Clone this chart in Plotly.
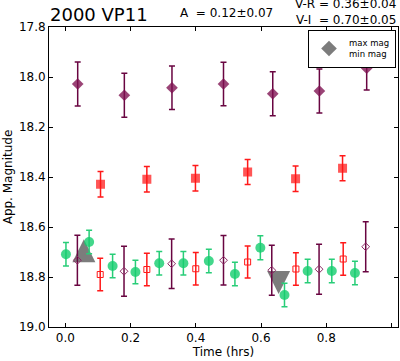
import plotly.graph_objects as go

# ---- data ----
v_t = [0.038, 0.181, 0.327, 0.485, 0.636, 0.779, 0.924]
v_mag = [18.028, 18.073, 18.043, 18.028, 18.067, 18.056, 17.965]
v_err = [0.088, 0.088, 0.087, 0.087, 0.088, 0.088, 0.087]

r_t = [0.108, 0.250, 0.399, 0.559, 0.706, 0.850]
r_mag = [18.429, 18.409, 18.405, 18.380, 18.407, 18.365]
r_err = [0.051, 0.051, 0.051, 0.050, 0.051, 0.050]

i_t = [0.002, 0.073, 0.145, 0.215, 0.288, 0.362, 0.440, 0.520, 0.598, 0.672, 0.743, 0.817, 0.888]
i_mag = [18.709, 18.660, 18.756, 18.780, 18.745, 18.745, 18.736, 18.788, 18.683, 18.872, 18.776, 18.776, 18.784]
i_err = [0.047, 0.047, 0.047, 0.047, 0.047, 0.047, 0.047, 0.047, 0.048, 0.047, 0.047, 0.047, 0.047]

rs_t = [0.107, 0.250, 0.400, 0.559, 0.707, 0.852]
rs_mag = [18.790, 18.770, 18.767, 18.740, 18.768, 18.728]
rs_err = [0.065, 0.065, 0.065, 0.064, 0.065, 0.065]

vs_t = [0.037, 0.180, 0.326, 0.485, 0.633, 0.778, 0.921]
vs_mag = [18.733, 18.777, 18.747, 18.733, 18.773, 18.769, 18.679]
vs_err = [0.100, 0.100, 0.099, 0.099, 0.100, 0.100, 0.100]

max_t = [0.057]
max_mag = [18.695]
min_t = [0.654]
min_mag = [18.822]

legend_labels = ["max mag", "min mag"]
title_text = "2000 VP11"
amp_text = "A  = 0.12\u00b10.07"
vr_text = "V-R = 0.36\u00b10.04"
vi_text = "V-I  = 0.70\u00b10.05"

y_ticks = [17.8, 18.0, 18.2, 18.4, 18.6, 18.8, 19.0]
x_ticks = [0.0, 0.2, 0.4, 0.6, 0.8, 1.0]

FONT = "DejaVu Sans"
PURPLE_M = "rgba(125,15,80,0.78)"
PURPLE_E = "rgb(105,5,65)"
RED_M = "rgba(255,20,20,0.72)"
RED_E = "rgb(255,25,25)"
GREEN_M = "rgba(20,205,110,0.8)"
GREEN_E = "rgb(40,205,120)"
GRAY = "rgba(110,110,110,0.9)"

fig = go.Figure()

def eb(arr, color, w):
    return dict(type="data", array=arr, color=color, thickness=1.5, width=w, visible=True)

# max / min markers (centred triangles built from arrow symbols), drawn underneath
fig.add_trace(go.Scatter(x=max_t, y=max_mag, mode="markers", name=legend_labels[0], showlegend=False,
                         marker=dict(symbol="arrow-down", angle=180, standoff=11.5, size=23,
                                     color=GRAY, line=dict(width=0))))
fig.add_trace(go.Scatter(x=min_t, y=min_mag, mode="markers", name=legend_labels[1], showlegend=False,
                         marker=dict(symbol="arrow-down", standoff=11.5, size=23,
                                     color=GRAY, line=dict(width=0))))
# bottom group
fig.add_trace(go.Scatter(x=i_t, y=i_mag, mode="markers", showlegend=False,
                         marker=dict(symbol="circle", size=10, color=GREEN_M, line=dict(width=0)),
                         error_y=eb(i_err, GREEN_E, 3)))
fig.add_trace(go.Scatter(x=rs_t, y=rs_mag, mode="markers", showlegend=False,
                         marker=dict(symbol="square-open", size=6, color=RED_E, line=dict(width=1)),
                         error_y=eb(rs_err, RED_E, 3)))
fig.add_trace(go.Scatter(x=vs_t, y=vs_mag, mode="markers", showlegend=False,
                         marker=dict(symbol="diamond-open", size=6, color="rgb(140,40,100)", line=dict(width=1)),
                         error_y=eb(vs_err, PURPLE_E, 3)))
# top groups
fig.add_trace(go.Scatter(x=v_t, y=v_mag, mode="markers", showlegend=False,
                         marker=dict(symbol="diamond", size=9, color=PURPLE_M, line=dict(width=0)),
                         error_y=eb(v_err, PURPLE_E, 3)))
fig.add_trace(go.Scatter(x=r_t, y=r_mag, mode="markers", showlegend=False,
                         marker=dict(symbol="square", size=9, color=RED_M, line=dict(width=0)),
                         error_y=eb(r_err, RED_E, 3)))
# combined legend entry (max/min triangles stacked)
fig.add_trace(go.Scatter(x=[None], y=[None], mode="markers", name="<br>".join(legend_labels),
                         marker=dict(symbol="diamond", size=12, color=GRAY, line=dict(width=0))))

W, H = 400, 361
L, R, T, B = 49, 2, 27, 34
pw, ph = W - L - R, H - T - B
def px(x):
    return (x - L) / pw
def py(y):
    return (H - B - y) / ph

def ann(text, x, y, size, xanchor="left"):
    fig.add_annotation(text=text, x=x, y=y, xref="paper", yref="paper", showarrow=False,
                       xanchor=xanchor, yanchor="middle", font=dict(family=FONT, size=size, color="black"))

ann(title_text, px(48), py(15), 18)
ann(amp_text, px(178), py(13), 12)
ann(vr_text, px(398), py(4), 12, "right")
ann(vi_text, px(398), py(20), 12, "right")

axis_common = dict(showline=True, linecolor="black", linewidth=1, mirror="allticks",
                   ticks="inside", ticklen=4, tickwidth=1, tickcolor="black",
                   showgrid=False, zeroline=False,
                   tickfont=dict(family=FONT, size=12, color="black"))

fig.update_xaxes(range=[-0.05, 1.02], tickvals=x_ticks, tickformat=".1f",
                 title=dict(text="Time (hrs)", font=dict(family=FONT, size=12, color="black"), standoff=1),
                 **axis_common)
fig.update_yaxes(range=[19.0, 17.8], tickvals=y_ticks, tickformat=".1f",
                 title=dict(text="App. Magnitude", font=dict(family=FONT, size=12, color="black"), standoff=3),
                 **axis_common)

fig.update_layout(width=W, height=H, margin=dict(l=L, r=R, t=T, b=B, pad=0, autoexpand=False),
                  paper_bgcolor="white", plot_bgcolor="white",
                  font=dict(family=FONT, size=12, color="black"),
                  legend=dict(x=px(396), y=py(30), xanchor="right", yanchor="top",
                              bgcolor="white", bordercolor="black", borderwidth=1,
                              font=dict(family=FONT, size=8.5, color="black"),
                              tracegroupgap=0, itemwidth=30))

fig.write_html("out.html", config={"displayModeBar": False},
               post_script="document.body.style.margin='0';document.body.style.padding='0';")
